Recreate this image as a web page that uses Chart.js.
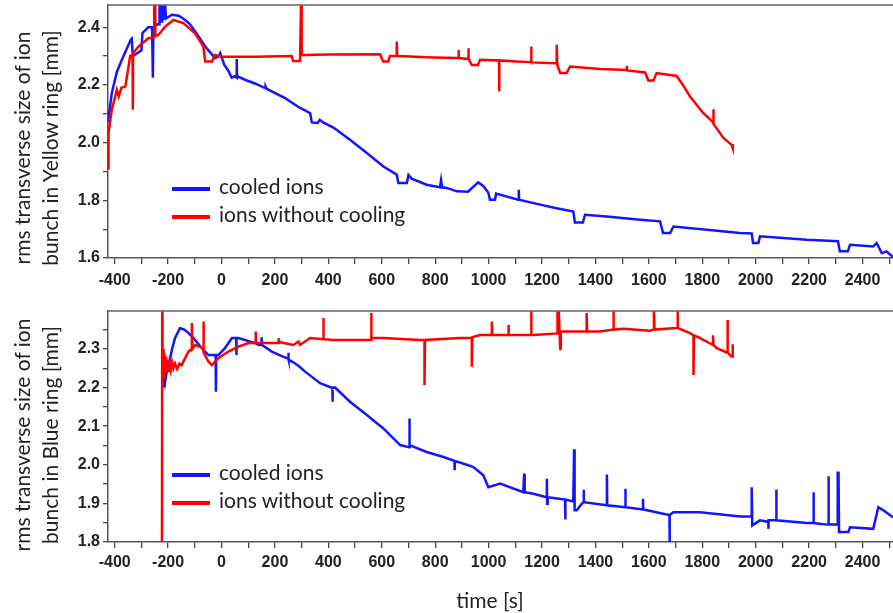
<!DOCTYPE html>
<html>
<head>
<meta charset="utf-8">
<script src="https://cdn.jsdelivr.net/npm/chart.js@4"></script>
<style>
    body { margin: 0; background: #fff; }
    #wrap { position: relative; width: 893px; height: 613px; overflow: hidden; background: #fff; font-family: Lato, "Open Sans", sans-serif; color: #222; }
    canvas { position: absolute; left: 0; }
    .ytitle { position: absolute; width: 300px; height: 56px; left: -114px; line-height: 28px; font-size: 21px; text-align: center; transform: rotate(-90deg); white-space: nowrap; }
    .legend { position: absolute; left: 172px; font-size: 21px; line-height: 28px; white-space: nowrap; }
    .legend .swatch { display: inline-block; width: 38px; height: 4px; margin-right: 9px; vertical-align: middle; }
    .xtitle { position: absolute; left: 430px; width: 120px; top: 586px; line-height: 28px; font-size: 21px; text-align: center; }
</style>
</head>
<body>
<div id="wrap">
    <canvas id="yellowChart" width="893" height="300" style="top:0"></canvas>
    <canvas id="blueChart" width="893" height="313" style="top:300px"></canvas>

    <div class="ytitle" style="top:120px">rms transverse size of ion<br>bunch in Yellow ring [mm]</div>
    <div class="ytitle" style="top:407px">rms transverse size of ion<br>bunch in Blue ring [mm]</div>

    <div class="legend" style="top:172px">
        <div><span class="swatch" style="background:rgb(20,20,255)"></span>cooled ions</div>
        <div><span class="swatch" style="background:rgb(255,0,0)"></span>ions without cooling</div>
    </div>
    <div class="legend" style="top:458px">
        <div><span class="swatch" style="background:rgb(20,20,255)"></span>cooled ions</div>
        <div><span class="swatch" style="background:rgb(255,0,0)"></span>ions without cooling</div>
    </div>

    <div class="xtitle">time [s]</div>
</div>

<script>
// time axis range [s]
const timeMin = -425;
const timeMax = 2514;

// Yellow ring, cooled ions
const yellowCooledT = [-425, -411, -392, -373, -354, -340, -336, -332, -315, -300, -296, -285, -274, -260, -257, -257, -255, -240, -232, -232, -229, -222, -222, -218, -212, -212, -208, -186, -160, -136, -118, -99, -80, -61, -40, -24, -10, -5, 10, 25, 38, 50, 57, 57, 58, 88, 125, 163, 165, 170, 238, 294, 313, 332, 338, 360, 368, 380, 419, 481, 544, 606, 656, 662, 694, 700, 712, 768, 818, 822, 826, 843, 881, 923, 940, 961, 980, 999, 1005, 1024, 1028, 1111, 1113, 1114, 1193, 1250, 1317, 1323, 1353, 1361, 1442, 1567, 1642, 1653, 1680, 1692, 1817, 1941, 1985, 1990, 2010, 2016, 2191, 2308, 2315, 2345, 2353, 2440, 2453, 2472, 2490, 2514];
const yellowCooledY = [2.07, 2.17, 2.245, 2.287, 2.327, 2.356, 2.36, 2.30, 2.31, 2.32, 2.38, 2.39, 2.40, 2.40, 2.40, 2.225, 2.40, 2.41, 2.41, 2.50, 2.42, 2.42, 2.50, 2.43, 2.43, 2.50, 2.43, 2.443, 2.44, 2.425, 2.41, 2.385, 2.36, 2.333, 2.31, 2.293, 2.30, 2.31, 2.27, 2.25, 2.225, 2.23, 2.225, 2.29, 2.23, 2.218, 2.205, 2.189, 2.195, 2.186, 2.154, 2.12, 2.112, 2.102, 2.07, 2.068, 2.079, 2.07, 2.052, 2.01, 1.964, 1.917, 1.889, 1.86, 1.86, 1.888, 1.875, 1.854, 1.845, 1.87, 1.845, 1.843, 1.831, 1.83, 1.845, 1.862, 1.85, 1.826, 1.802, 1.802, 1.823, 1.802, 1.837, 1.802, 1.785, 1.773, 1.761, 1.723, 1.723, 1.75, 1.744, 1.733, 1.727, 1.687, 1.687, 1.709, 1.698, 1.687, 1.685, 1.652, 1.652, 1.675, 1.663, 1.658, 1.623, 1.623, 1.646, 1.64, 1.652, 1.617, 1.623, 1.603];

// Yellow ring, ions without cooling
const yellowHotT = [-424, -423, -411, -398, -392, -385, -375, -360, -348, -342, -333, -332, -331, -311, -274, -252, -252, -248, -248, -236, -211, -180, -143, -99, -68, -61, -36, -24, 1, 126, 263, 268, 294, 298, 300, 313, 400, 594, 605, 624, 631, 656, 656, 658, 793, 887, 887, 889, 924, 924, 926, 937, 960, 968, 1039, 1039, 1041, 1105, 1159, 1159, 1161, 1249, 1255, 1255, 1257, 1268, 1292, 1305, 1417, 1517, 1518, 1519, 1586, 1598, 1617, 1629, 1704, 1723, 1754, 1804, 1841, 1841, 1843, 1879, 1910, 1914, 1914];
const yellowHotY = [1.91, 2.033, 2.114, 2.16, 2.183, 2.16, 2.19, 2.194, 2.264, 2.30, 2.305, 2.114, 2.31, 2.333, 2.362, 2.365, 2.50, 2.50, 2.37, 2.373, 2.402, 2.425, 2.414, 2.379, 2.333, 2.281, 2.281, 2.304, 2.298, 2.298, 2.30, 2.283, 2.283, 2.50, 2.304, 2.304, 2.305, 2.306, 2.281, 2.281, 2.30, 2.30, 2.35, 2.30, 2.295, 2.293, 2.321, 2.293, 2.29, 2.327, 2.29, 2.269, 2.269, 2.287, 2.285, 2.177, 2.285, 2.281, 2.279, 2.333, 2.278, 2.275, 2.275, 2.339, 2.27, 2.241, 2.241, 2.264, 2.255, 2.252, 2.266, 2.25, 2.243, 2.215, 2.215, 2.241, 2.231, 2.206, 2.16, 2.102, 2.07, 2.116, 2.065, 2.016, 1.992, 1.981, 1.995];

// Blue ring, cooled ions
const blueCooledT = [-219, -218, -216, -214, -212, -210, -205, -192, -185, -174, -155, -140, -130, -105, -74, -49, -22, -21, -20, -12, 13, 39, 55, 55, 57, 63, 88, 126, 140, 150, 150, 152, 188, 230, 250, 250, 252, 276, 290, 313, 369, 410, 415, 415, 417, 425, 481, 544, 606, 669, 703, 703, 705, 768, 831, 872, 872, 874, 918, 943, 980, 999, 1043, 1130, 1133, 1135, 1168, 1216, 1218, 1219, 1221, 1286, 1287, 1288, 1317, 1320, 1322, 1330, 1350, 1355, 1356, 1357, 1442, 1443, 1444, 1511, 1512, 1513, 1577, 1578, 1579, 1654, 1677, 1677, 1679, 1692, 1792, 1942, 1985, 1985, 1987, 2016, 2047, 2047, 2049, 2076, 2076, 2079, 2191, 2216, 2216, 2218, 2266, 2272, 2272, 2274, 2307, 2307, 2310, 2312, 2347, 2353, 2440, 2459, 2478, 2514];
const blueCooledY = [2.28, 2.20, 2.26, 2.205, 2.25, 2.22, 2.241, 2.276, 2.30, 2.328, 2.354, 2.35, 2.345, 2.328, 2.302, 2.284, 2.284, 2.189, 2.284, 2.284, 2.302, 2.328, 2.328, 2.284, 2.328, 2.328, 2.323, 2.315, 2.31, 2.31, 2.33, 2.31, 2.293, 2.28, 2.275, 2.29, 2.272, 2.262, 2.255, 2.241, 2.211, 2.20, 2.20, 2.163, 2.198, 2.20, 2.163, 2.129, 2.094, 2.051, 2.045, 2.12, 2.051, 2.033, 2.02, 2.01, 1.986, 2.01, 2.0, 1.994, 1.973, 1.942, 1.951, 1.929, 1.977, 1.929, 1.925, 1.916, 1.964, 1.899, 1.916, 1.91, 1.858, 1.91, 1.905, 2.04, 1.882, 1.882, 1.90, 1.903, 1.935, 1.903, 1.895, 1.975, 1.895, 1.89, 1.938, 1.89, 1.884, 1.912, 1.884, 1.873, 1.87, 1.80, 1.87, 1.877, 1.877, 1.866, 1.866, 1.942, 1.843, 1.856, 1.852, 1.834, 1.856, 1.856, 1.936, 1.856, 1.849, 1.849, 1.929, 1.849, 1.845, 1.845, 1.97, 1.845, 1.845, 1.979, 1.979, 1.826, 1.826, 1.838, 1.834, 1.89, 1.882, 1.864];

// Blue ring, ions without cooling
const blueHotT = [-223, -222, -221, -219, -217, -214, -211, -208, -205, -202, -199, -195, -190, -185, -180, -174, -166, -158, -149, -124, -111, -111, -109, -99, -80, -68, -68, -66, -49, -36, -12, 26, 63, 101, 128, 128, 130, 188, 213, 213, 215, 269, 288, 294, 332, 381, 381, 383, 419, 560, 560, 562, 606, 743, 760, 760, 762, 893, 937, 937, 939, 968, 1012, 1012, 1014, 1074, 1074, 1076, 1105, 1159, 1159, 1161, 1168, 1258, 1258, 1262, 1262, 1268, 1270, 1293, 1367, 1367, 1369, 1417, 1467, 1467, 1469, 1504, 1604, 1619, 1619, 1621, 1704, 1707, 1707, 1709, 1754, 1767, 1767, 1769, 1792, 1840, 1840, 1842, 1854, 1894, 1894, 1896, 1910, 1914, 1914];
const blueHotY = [1.75, 2.45, 2.20, 2.30, 2.22, 2.29, 2.24, 2.28, 2.245, 2.27, 2.24, 2.265, 2.245, 2.265, 2.25, 2.262, 2.248, 2.262, 2.258, 2.293, 2.30, 2.367, 2.30, 2.31, 2.305, 2.302, 2.371, 2.29, 2.267, 2.258, 2.276, 2.293, 2.306, 2.315, 2.315, 2.345, 2.315, 2.315, 2.315, 2.328, 2.318, 2.31, 2.319, 2.31, 2.328, 2.325, 2.38, 2.325, 2.323, 2.323, 2.393, 2.328, 2.328, 2.323, 2.323, 2.206, 2.323, 2.328, 2.328, 2.254, 2.33, 2.336, 2.336, 2.371, 2.336, 2.336, 2.362, 2.336, 2.336, 2.336, 2.41, 2.336, 2.336, 2.34, 2.41, 2.34, 2.41, 2.30, 2.345, 2.345, 2.345, 2.393, 2.345, 2.345, 2.35, 2.41, 2.35, 2.352, 2.347, 2.35, 2.41, 2.35, 2.354, 2.354, 2.41, 2.354, 2.341, 2.335, 2.232, 2.335, 2.328, 2.31, 2.335, 2.31, 2.302, 2.29, 2.375, 2.29, 2.28, 2.28, 2.312];

const toPoints = (t, v) => t.map((x, i) => ({ x, y: v[i] }));

const axisColor = '#555';
const tickFont = { family: '"Liberation Sans", Arial, sans-serif', size: 16, weight: 'bold' };

// top border of each panel
const frameTop = {
    id: 'frameTop',
    afterDraw(chart) {
        const { ctx, chartArea } = chart;
        ctx.save();
        ctx.strokeStyle = '#666';
        ctx.lineWidth = 1.5;
        ctx.beginPath();
        ctx.moveTo(chartArea.left, chartArea.top);
        ctx.lineTo(chartArea.right, chartArea.top);
        ctx.stroke();
        ctx.restore();
    }
};

const makeChart = (id, cfg) => {
    const ctx = document.getElementById(id).getContext('2d');
    return new Chart(ctx, {
        type: 'line',
        data: {
            datasets: [{
                label: 'ions without cooling',
                data: toPoints(cfg.hotT, cfg.hotY),
                borderColor: 'rgb(255,0,0)',
                borderWidth: 2.5,
                pointRadius: 0,
                tension: 0,
                clip: 0
            }, {
                label: 'cooled ions',
                data: toPoints(cfg.coolT, cfg.coolY),
                borderColor: 'rgb(20,20,255)',
                borderWidth: 2.5,
                pointRadius: 0,
                tension: 0,
                clip: 0
            }]
        },
        options: {
            responsive: false,
            animation: false,
            layout: { padding: { top: cfg.padTop, left: 0, right: 0, bottom: 0 } },
            plugins: { legend: { display: false }, tooltip: { enabled: false } },
            scales: {
                x: {
                    type: 'linear',
                    min: timeMin,
                    max: timeMax,
                    grid: { drawOnChartArea: false, drawTicks: true, tickLength: 6, color: '#444', lineWidth: 1.3 },
                    border: { color: axisColor, width: 1.5 },
                    ticks: {
                        stepSize: 100,
                        includeBounds: false,
                        autoSkip: false,
                        maxRotation: 0,
                        padding: cfg.xPad,
                        color: '#222',
                        font: tickFont,
                        callback: v => (Math.round(v) % 200 === 0 ? String(Math.round(v)) : '')
                    },
                    afterFit: s => {
                        s.height = cfg.xHeight;
                        s.paddingLeft = 0;
                        s.paddingRight = 0;
                    }
                },
                y: {
                    min: cfg.yMin,
                    max: cfg.yMax,
                    grid: { drawOnChartArea: false, drawTicks: true, tickLength: 5, color: '#444', lineWidth: 1.3 },
                    border: { color: axisColor, width: 1.5 },
                    ticks: {
                        stepSize: cfg.yStep,
                        includeBounds: false,
                        autoSkip: false,
                        padding: 3,
                        color: '#222',
                        font: tickFont,
                        callback: v => (Math.round(v / cfg.yStep) % 2 === 0 ? v.toFixed(1) : '')
                    },
                    afterFit: s => {
                        s.width = 108;
                        s.paddingTop = 0;
                        s.paddingBottom = 0;
                    }
                }
            }
        },
        plugins: [frameTop]
    });
};

makeChart('yellowChart', {
    coolT: yellowCooledT, coolY: yellowCooledY,
    hotT: yellowHotT, hotY: yellowHotY,
    yMin: 1.6, yMax: 2.477, yStep: 0.1,
    padTop: 5, xHeight: 42, xPad: 7
});

makeChart('blueChart', {
    coolT: blueCooledT, coolY: blueCooledY,
    hotT: blueHotT, hotY: blueHotY,
    yMin: 1.8, yMax: 2.398, yStep: 0.05,
    padTop: 11, xHeight: 71, xPad: 5
});
</script>
</body>
</html>
